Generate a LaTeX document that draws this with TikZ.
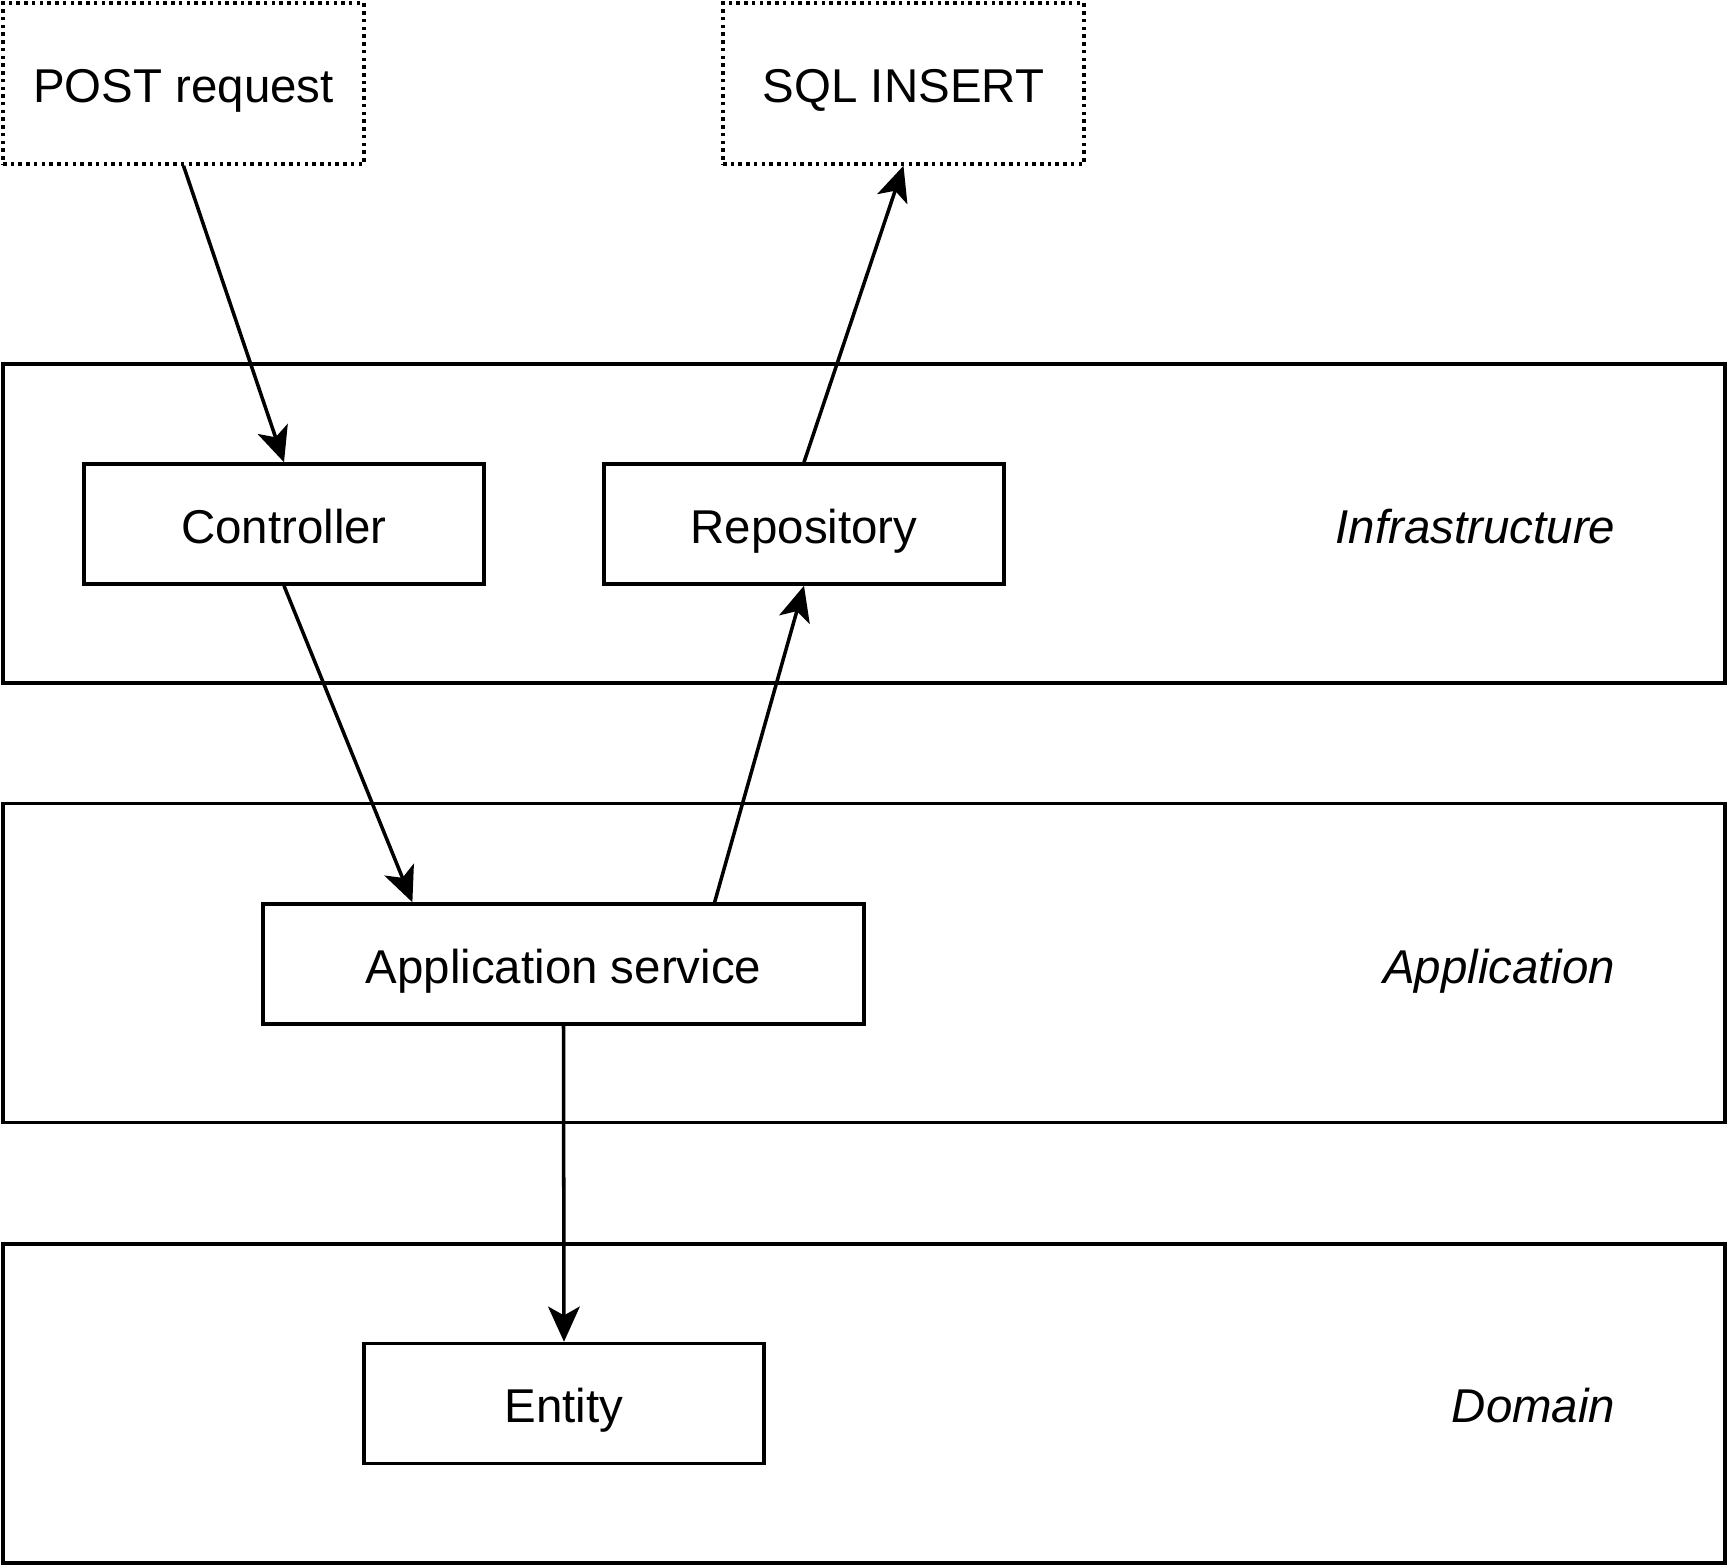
\documentclass[tikz,border=0pt]{standalone}
\usepackage{fontspec}
\setmainfont{Liberation Sans}
\usetikzlibrary{arrows.meta,calc}
\tikzset{
  layer/.style={draw=black,line width=1pt,minimum width=17.22cm,minimum height=3.19cm,inner sep=0pt},
  unit/.style={draw=black,line width=1pt,minimum height=1.20cm,inner sep=0pt,
    font=\fontsize{13.5}{16}\selectfont,text height=1.1em,text depth=0em},
  outside/.style={unit,dash pattern=on 1pt off 1.2pt,minimum width=3.61cm,minimum height=1.61cm},
  tag/.style={anchor=east,inner sep=0pt,font=\fontsize{13.5}{16}\selectfont\itshape,
    text height=0.9em,text depth=0em},
  call/.style={-{Stealth[length=10pt,width=9pt,inset=2.5pt]},line width=1pt},
}
\begin{document}
\begin{tikzpicture}
  \useasboundingbox (0,0) rectangle (17.28,-15.67);
  % helper grid: comment for final drawing
  % \draw[help lines,step=1] (0,0) grid (17.28,-15.67);
  % layers
  \node[layer] (infra) at (8.64,-5.235) {};
  \node[layer] (appl)  at (8.64,-9.63)  {};
  \node[layer] (dom)   at (8.64,-14.035) {};
  \node[tag] (infratag) at (16.16,-5.28)  {Infrastructure};
  \node[tag] (appltag)  at (16.16,-9.68)  {Application};
  \node[tag] (domtag)   at (16.16,-14.07) {Domain};
  % outside world
  \node[outside] (post) at (1.835,-0.835) {POST request};
  \node[outside] (sql)  at (9.035,-0.835) {SQL INSERT};
  % components
  \node[unit,minimum width=4.00cm] (ctrl) at (2.84,-5.24)  {Controller};
  \node[unit,minimum width=4.00cm] (repo) at (8.04,-5.24)  {Repository};
  \node[unit,minimum width=6.01cm] (svc)  at (5.635,-9.64) {Application service};
  \node[unit,minimum width=4.00cm] (ent)  at (5.64,-14.035) {Entity};
  % calls
  \draw[call] (post.south) -- (ctrl.north);
  \draw[call] (ctrl.south) -- ($(svc.north west)!0.25!(svc.north east)$);
  \draw[call] ($(svc.north west)!0.75!(svc.north east)$) -- (repo.south);
  \draw[call] (repo.north) -- (sql.south);
  \draw[call] (svc.south) -- (ent.north);
\end{tikzpicture}
\end{document}
